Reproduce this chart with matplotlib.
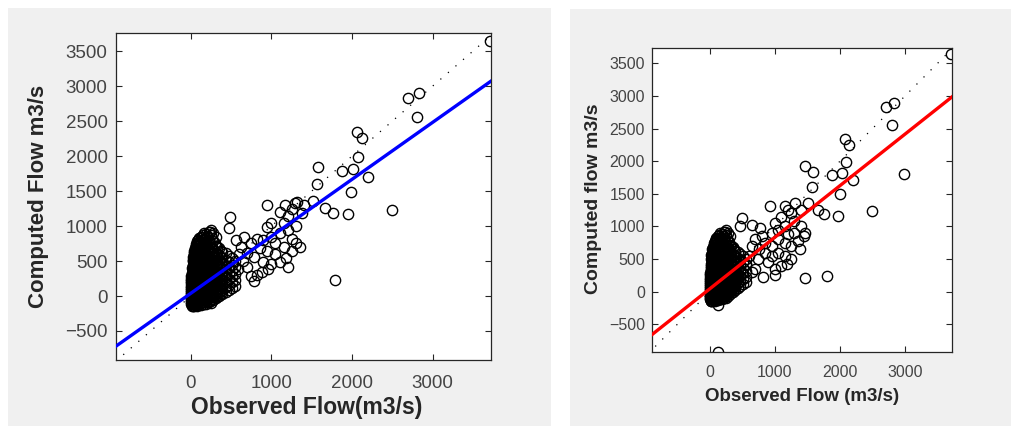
import matplotlib
matplotlib.use('Agg')
import matplotlib.pyplot as plt
import matplotlib.patches as mpatches

plt.rcParams['font.family'] = ['Liberation Sans', 'DejaVu Sans']

# dense cloud of low flows (shared by both panels), one list of computed values per observed column
dense_obs = [0, 10, 20, 35, 50, 65, 80, 100, 130, 160, 190, 220, 250, 280, 310, 350, 390, 430, 470, 510, 550]
dense_comp = [
    [-120, -60, 0, 60, 120, 180, 250],
    [-140, -100, -40, 20, 80, 140, 200, 260, 330, 400],
    [-140, -110, -50, 10, 70, 130, 190, 250, 310, 370, 430, 500, 560],
    [-140, -80, -20, 40, 100, 160, 220, 280, 340, 400, 460, 520, 590, 650],
    [-130, -100, -40, 20, 80, 140, 200, 260, 320, 380, 440, 500, 560, 620, 690],
    [-130, -70, -10, 50, 110, 170, 230, 290, 350, 410, 470, 530, 600, 680, 740],
    [-140, -90, -30, 30, 90, 150, 210, 270, 330, 390, 450, 510, 570, 640, 710, 780],
    [-120, -60, 0, 60, 120, 180, 240, 300, 360, 420, 480, 540, 610, 690, 770, 830],
    [-130, -80, -20, 40, 100, 160, 220, 280, 340, 400, 460, 530, 600, 680, 760, 850],
    [-110, -50, 10, 70, 130, 190, 250, 310, 370, 440, 510, 590, 670, 740, 820, 900],
    [-120, -60, 0, 60, 120, 180, 240, 300, 370, 450, 530, 620, 700, 790, 880],
    [-90, -30, 30, 90, 150, 210, 280, 350, 430, 520, 610, 700, 800, 920],
    [-100, -40, 20, 80, 140, 200, 270, 340, 420, 500, 600, 690, 870, 940],
    [-60, 0, 60, 120, 180, 250, 320, 400, 480, 560, 650, 780, 900],
    [-30, 30, 90, 150, 220, 290, 360, 440, 520, 600, 720, 850],
    [0, 60, 120, 190, 260, 330, 410, 490, 580, 680],
    [30, 90, 160, 230, 300, 380, 460, 540, 630],
    [60, 130, 200, 270, 350, 430, 520, 610],
    [90, 160, 240, 320, 400, 490, 570],
    [120, 200, 280, 360, 450, 540],
    [150, 230, 320, 410, 500],
]
# second pass of the cloud, observed values that fall between the columns above
dense2_obs = [5, 28, 43, 58, 72, 90, 115, 145, 175, 205, 235, 265, 295, 330, 370]
dense2_comp = [
    [-90, -30, 30, 90, 150, 210, 280],
    [-110, -50, 10, 70, 130, 190, 250, 310, 380, 450, 520],
    [-70, -10, 50, 110, 170, 230, 290, 350, 410, 470, 540, 610],
    [-100, -40, 20, 80, 140, 200, 260, 320, 380, 440, 500, 570, 640, 710],
    [-60, 0, 60, 120, 180, 240, 300, 360, 420, 480, 550, 620, 690, 760],
    [-90, -30, 30, 90, 150, 210, 270, 330, 390, 450, 520, 590, 660, 730, 800],
    [-100, -40, 20, 80, 140, 200, 260, 320, 390, 460, 530, 610, 700, 790],
    [-80, -20, 40, 100, 160, 220, 290, 360, 430, 500, 570, 650, 720, 800, 870],
    [-90, -30, 30, 90, 150, 210, 270, 340, 410, 490, 570, 650, 740, 830],
    [-60, 0, 60, 120, 190, 260, 330, 400, 480, 560, 650, 740, 860],
    [-70, -10, 50, 110, 170, 240, 310, 390, 470, 550, 640, 760, 910],
    [-40, 20, 80, 150, 220, 290, 370, 450, 530, 620, 700, 830],
    [-10, 50, 110, 180, 250, 320, 400, 480, 560, 650, 760],
    [10, 70, 140, 210, 280, 350, 430, 510, 600, 700],
    [40, 110, 180, 250, 320, 400, 480, 560, 650],
]

# left panel: scattered points (observed, computed)
left_obs = [560, 620, 660, 700, 740, 780, 820, 860, 900, 880, 820, 780, 740, 700, 650, 600, 580,
            950, 1000, 1050, 1100, 1150, 1200, 1250, 1300, 1350, 1300, 1200, 1100, 1000, 1050, 950,
            900, 1150, 1250, 1180, 1000, 960, 1100, 1170, 1294, 1377, 1250, 1400, 943, 479, 467,
            1211, 1790, 1315, 1513, 1666, 1761, 1955, 2501, 1989, 1563, 2204, 2018, 1873, 1583,
            2080, 2121, 2060, 2804, 2833, 2700, 3715]
left_comp = [800, 700, 840, 620, 760, 560, 820, 680, 480, 350, 300, 220, 280, 420, 500, 600, 380,
             980, 850, 760, 900, 1050, 950, 820, 760, 700, 1000, 1150, 1200, 1050, 600, 650,
             800, 700, 650, 540, 460, 380, 480, 1300, 1324, 1181, 1250, 1300, 1300, 1133, 967,
             419, 229, 1347, 1357, 1253, 1190, 1171, 1224, 1490, 1600, 1704, 1810, 1790, 1843,
             1981, 2253, 2343, 2557, 2904, 2833, 3643]

# right panel: scattered points (observed, computed)
right_obs = [487, 641, 769, 923, 1154, 1308, 1200, 1250, 1100, 1000, 950, 1050, 1150, 1200, 1300,
             1400, 1450, 1350, 1250, 1150, 1050, 950, 850, 800, 700, 650, 750, 850, 950, 1050,
             1150, 1250, 1385, 1180, 1000, 815, 641, 738, 600, 550, 900, 1100, 1000, 700, 1300,
             1400, 462, 1462, 1795, 1462, 123, 128, 1513, 1666, 1754, 1965, 2497, 1999, 1564,
             2205, 2026, 1872, 1590, 1462, 2990, 2087, 2143, 2077, 2805, 2831, 2703, 3708]
right_comp = [1131, 1029, 983, 1309, 1309, 1365, 1250, 1200, 1150, 1050, 900, 950, 1000, 880, 900,
              1000, 850, 780, 700, 750, 800, 700, 750, 850, 800, 700, 650, 600, 550, 600,
              550, 500, 647, 417, 341, 219, 295, 494, 550, 420, 450, 400, 250, 350, 1080,
              1250, 1003, 902, 239, 203, -923, -210, 1361, 1258, 1193, 1167, 1232, 1498, 1600,
              1707, 1820, 1794, 1835, 1921, 1809, 1988, 2252, 2339, 2558, 2899, 2838, 3639]

# regression lines (slope, intercept) and the 1:1 reference line
left_fit = (0.814, 40)
right_fit = (0.790, 45)
one_to_one = [-840, 3720]

yticks = [-500, 0, 500, 1000, 1500, 2000, 2500, 3000, 3500]
xticks = [0, 1000, 2000, 3000]

fig = plt.figure(figsize=(10.14, 4.26), dpi=100)

# gray MATLAB-style figure backgrounds, kept behind the axes
fig.patches.append(mpatches.Rectangle((0.0079, 0.0), 0.5355, 0.981, transform=fig.transFigure,
                                      facecolor='#f0f0f0', edgecolor='none', zorder=-10))
fig.patches.append(mpatches.Rectangle((0.5621, 0.0), 0.4349, 0.979, transform=fig.transFigure,
                                      facecolor='#f0f0f0', edgecolor='none', zorder=-10))

ax1 = fig.add_axes([0.1144, 0.1549, 0.3698, 0.7676])
ax2 = fig.add_axes([0.643, 0.1737, 0.2959, 0.7136])


def draw_panel(ax, obs, comp, fit, color, xlim, ylim, tick_fs, xpad, ypad):
    # dense cloud first
    for cols, vals in [(dense_obs, dense_comp), (dense2_obs, dense2_comp)]:
        for x, ys in zip(cols, vals):
            ax.plot([x] * len(ys), ys, 'o', mfc='none', mec='black', ms=7.4, mew=1.0, ls='none')
    ax.plot(obs, comp, 'o', mfc='none', mec='black', ms=7.4, mew=1.0, ls='none')
    # 1:1 dotted line
    ax.plot(one_to_one, one_to_one, color='black', lw=0.9, ls=(0, (1, 7)))
    # fitted line across the full x range
    ax.plot(xlim, [fit[0] * x + fit[1] for x in xlim], color=color, lw=2.4, zorder=5)
    ax.set_xlim(xlim)
    ax.set_ylim(ylim)
    ax.set_xticks(xticks)
    ax.set_yticks(yticks)
    ax.tick_params(direction='in', length=4, width=0.8, top=True, right=True,
                   labelsize=tick_fs, labelcolor='#444444', color='#262626')
    ax.tick_params(axis='x', pad=xpad)
    ax.tick_params(axis='y', pad=ypad)
    for s in ax.spines.values():
        s.set_color('#262626')
        s.set_linewidth(0.9)
    ax.set_facecolor('white')


draw_panel(ax1, left_obs, left_comp, left_fit, '#0000ff', [-930, 3725], [-915, 3760], 13.5, 11, 6)
draw_panel(ax2, right_obs, right_comp, right_fit, '#ff0000', [-890, 3723], [-925, 3735], 11.5, 9, 5)

# axis titles placed like the original figure
fig.text(0.3028, 0.0446, 'Observed Flow(m3/s)', ha='center', va='center',
         fontsize=16.5, fontweight='bold', color='#262626')
fig.text(0.0375, 0.54, 'Computed Flow m3/s', ha='center', va='center', rotation=90,
         fontsize=16, fontweight='bold', color='#262626')
fig.text(0.791, 0.0704, 'Observed Flow (m3/s)', ha='center', va='center',
         fontsize=13.5, fontweight='bold', color='#262626')
fig.text(0.585, 0.533, 'Computed flow m3/s', ha='center', va='center', rotation=90,
         fontsize=14, fontweight='bold', color='#262626')

fig.savefig('out.png', dpi=100, facecolor='white')
